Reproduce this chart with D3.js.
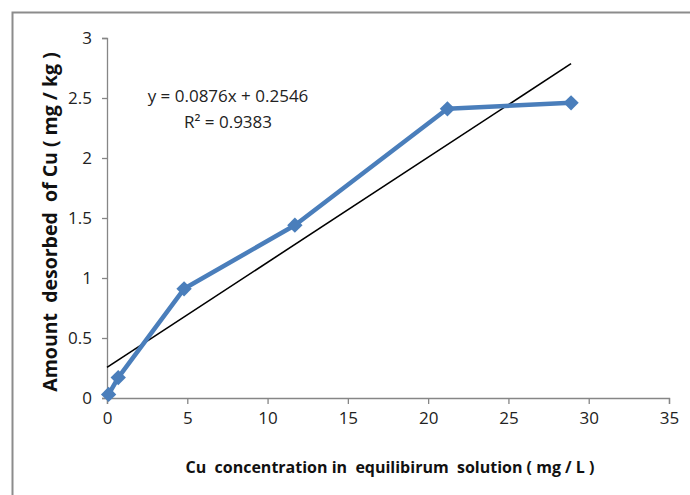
<!DOCTYPE html>
<html>
<head>
<meta charset="utf-8">
<script src="https://cdn.jsdelivr.net/npm/d3@7"></script>
<style>
  body { margin: 0; background: #fff; }
  text { font-family: "Open Sans", sans-serif; }
</style>
</head>
<body>
<script>
const width = 690;
const height = 495;

// data
const concentration = [0.1, 0.7, 4.8, 11.7, 21.2, 28.9];
const desorbed = [0.03, 0.17, 0.91, 1.44, 2.41, 2.46];
const xTicks = [0, 5, 10, 15, 20, 25, 30, 35];
const yTicks = [0, 0.5, 1, 1.5, 2, 2.5, 3];
const slope = 0.0876;
const intercept = 0.2546;
const equationLines = ["y = 0.0876x + 0.2546", "R² = 0.9383"];

const x = d3.scaleLinear().domain([0, 35]).range([107, 669]);
const y = d3.scaleLinear().domain([0, 3]).range([398, 38]);

const svg = d3.select("body")
	.append("svg")
	.attr("width", width)
	.attr("height", height);

// frame (only left and top edges show)
svg.append("path")
	.attr("d", "M12.5," + height + "V12.5H" + width)
	.attr("fill", "none")
	.attr("stroke", "#8c8c8c")
	.attr("stroke-width", 2);

const xAxis = svg.append("g")
	.attr("transform", "translate(0," + y(0) + ")")
	.call(d3.axisBottom(x).tickValues(xTicks).tickSize(6).tickPadding(8).tickFormat(d3.format("d")));

const yAxis = svg.append("g")
	.attr("transform", "translate(" + x(0) + ",0)")
	.call(d3.axisLeft(y).tickValues(yTicks).tickSize(5).tickPadding(10).tickFormat((d) => String(d)));

[xAxis, yAxis].forEach((g) => {
	g.select(".domain").attr("stroke", "#868686").attr("stroke-width", 1.3);
	g.selectAll(".tick line").attr("stroke", "#868686").attr("stroke-width", 1.3);
	g.selectAll(".tick text")
		.attr("fill", "#222")
		.style("font-size", "17px")
		.style("font-family", "'Open Sans', sans-serif");
});

// trend line
const xEnd = concentration[concentration.length - 1];
svg.append("line")
	.attr("x1", x(0))
	.attr("y1", y(intercept))
	.attr("x2", x(xEnd))
	.attr("y2", y(slope * xEnd + intercept))
	.attr("stroke", "#000")
	.attr("stroke-width", 1.6);

// series
const points = concentration.map((c, i) => [c, desorbed[i]]);
svg.append("path")
	.datum(points)
	.attr("fill", "none")
	.attr("stroke", "#4a7ebb")
	.attr("stroke-width", 4.5)
	.attr("stroke-linejoin", "round")
	.attr("d", d3.line().x((d) => x(d[0])).y((d) => y(d[1])));

svg.selectAll(".marker")
	.data(points)
	.enter()
	.append("path")
	.attr("class", "marker")
	.attr("transform", (d) => "translate(" + x(d[0]) + "," + y(d[1]) + ")")
	.attr("d", d3.symbol().type(d3.symbolDiamond2).size(150))
	.attr("fill", "#4a7ebb");

// equation label
svg.append("text")
	.attr("x", 228)
	.attr("y", 102)
	.attr("text-anchor", "middle")
	.style("font-size", "17px")
	.attr("fill", "#222")
	.text(equationLines[0]);

svg.append("text")
	.attr("x", 228)
	.attr("y", 128)
	.attr("text-anchor", "middle")
	.style("font-size", "17px")
	.attr("fill", "#222")
	.text(equationLines[1]);

// axis titles
svg.append("text")
	.attr("x", 390)
	.attr("y", 473)
	.attr("text-anchor", "middle")
	.style("font-size", "16px")
	.style("font-weight", "bold")
	.attr("fill", "#111")
	.attr("xml:space", "preserve")
	.text("Cu  concentration in  equilibirum  solution ( mg / L )");

svg.append("text")
	.attr("transform", "translate(57,222) rotate(-90)")
	.attr("text-anchor", "middle")
	.style("font-size", "19.5px")
	.style("font-weight", "bold")
	.attr("fill", "#111")
	.attr("xml:space", "preserve")
	.text("Amount  desorbed  of Cu ( mg / kg )");
</script>
</body>
</html>
